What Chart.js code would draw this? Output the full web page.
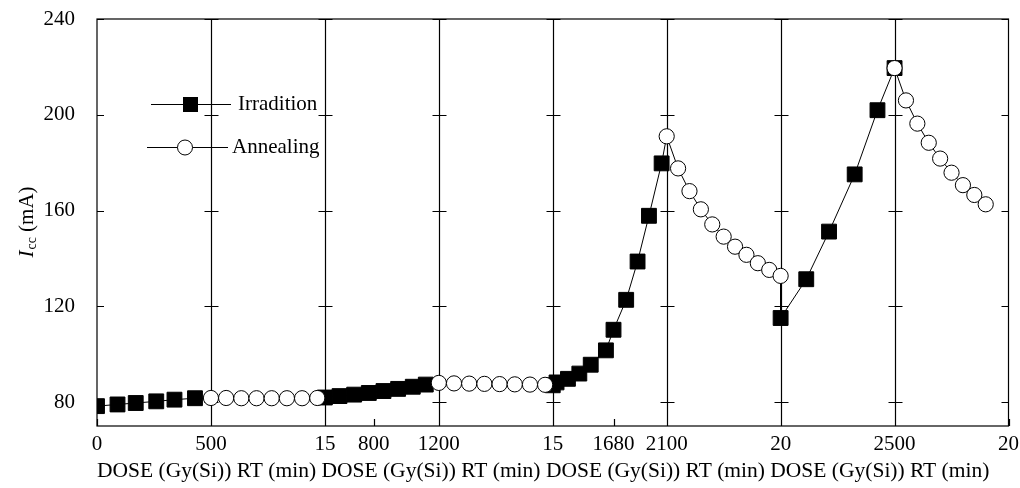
<!DOCTYPE html>
<html>
<head>
<meta charset="utf-8">
<script src="https://cdn.jsdelivr.net/npm/chart.js@4.4.1/dist/chart.umd.min.js"></script>
<style>
  html, body { margin: 0; padding: 0; background: #fff; }
  #wrap { width: 1020px; height: 488px; position: relative; }
</style>
</head>
<body>
<div id="wrap"><canvas id="chart"></canvas></div>
<script>
// x axis is split into runs: dose run, anneal run, dose run, ...
const doseRuns = [[0, 500], [500, 1200], [1200, 2100], [2100, 2500]];
const rtSpans = [15, 15, 20, 20];

// tick labels along the bottom, with the segment they belong to
const xTickLabels = ['0', '500', '15', '800', '1200', '15', '1680', '2100', '20', '2500', '20'];
const xTickSeg = [0, 0, 1, 2, 2, 3, 4, 4, 5, 6, 7];
const yTicks = [80, 120, 160, 200, 240];

// irradiation runs (dose, Icc)
const irr1Dose = [0, 90, 170, 260, 340, 430];
const irr1Icc = [78.3, 79.0, 79.6, 80.3, 81.0, 81.6];
const irr2Dose = [500, 590, 680, 770, 860, 950, 1040, 1120];
const irr2Icc = [81.9, 82.5, 83.1, 83.8, 84.6, 85.5, 86.4, 87.3];
const irr3Dose = [1200, 1230, 1320, 1410, 1500, 1620, 1680, 1780, 1870, 1960, 2060];
const irr3Icc = [87.0, 88.2, 89.7, 91.9, 95.6, 101.6, 110.2, 122.7, 138.7, 157.8, 179.7];
const irr4Dose = [2100, 2190, 2270, 2360, 2440, 2500];
const irr4Icc = [115.1, 131.3, 151.2, 175.1, 201.9, 219.5];

// annealing runs (RT minutes, Icc)
const ann1Time = [0, 2, 4, 6, 8, 10, 12, 14];
const ann1Icc = [81.7, 81.7, 81.6, 81.6, 81.6, 81.6, 81.6, 81.7];
const ann2Time = [0, 2, 4, 6, 8, 10, 12, 14];
const ann2Icc = [88.0, 87.8, 87.7, 87.6, 87.5, 87.4, 87.3, 87.2];
const ann3Time = [0, 2, 4, 6, 8, 10, 12, 14, 16, 18, 20];
const ann3Icc = [191.0, 177.6, 168.1, 160.5, 154.2, 149.1, 144.9, 141.5, 138.0, 135.2, 132.7];
const ann4Time = [0, 2, 4, 6, 8, 10, 12, 14, 16];
const ann4Icc = [219.5, 206.0, 196.3, 188.3, 181.7, 175.8, 170.6, 166.5, 162.6];

// segment-local value -> position on the 0..8 axis
function segX(seg, v) {
    if (seg % 2 === 0) {
        const r = doseRuns[seg / 2];
        return seg + (v - r[0]) / (r[1] - r[0]);
    }
    return seg + v / rtSpans[(seg - 1) / 2];
}
function pts(seg, xs, ys) {
    return xs.map((v, i) => ({ x: segX(seg, v), y: ys[i] }));
}

const irrPts = [].concat(pts(0, irr1Dose, irr1Icc), pts(2, irr2Dose, irr2Icc), pts(4, irr3Dose, irr3Icc), pts(6, irr4Dose, irr4Icc));
const annPts = [].concat(pts(1, ann1Time, ann1Icc), pts(3, ann2Time, ann2Icc), pts(5, ann3Time, ann3Icc), pts(7, ann4Time, ann4Icc));
const tracePts = [].concat(
    pts(0, irr1Dose, irr1Icc), pts(1, ann1Time, ann1Icc),
    pts(2, irr2Dose, irr2Icc), pts(3, ann2Time, ann2Icc),
    pts(4, irr3Dose, irr3Icc), pts(5, ann3Time, ann3Icc),
    pts(6, irr4Dose, irr4Icc), pts(7, ann4Time, ann4Icc));
const xTickPos = xTickLabels.map((t, i) => segX(xTickSeg[i], Number(t)));

const SERIF = '"Liberation Serif", "Times New Roman", serif';
Chart.defaults.font.family = SERIF;
Chart.defaults.font.size = 21;
Chart.defaults.color = '#000';

// frame, run separators and the inward ticks
const framePlugin = {
    id: 'frame',
    beforeDatasetsDraw(chart) {
        const ctx = chart.ctx, a = chart.chartArea;
        const xs = chart.scales.x, ys = chart.scales.y;
        ctx.save();
        ctx.strokeStyle = '#000';
        ctx.lineWidth = 1.2;
        ctx.strokeRect(a.left, a.top, a.right - a.left, a.bottom - a.top);
        ctx.beginPath();
        for (let s = 1; s < 8; s++) {
            const px = Math.round(xs.getPixelForValue(s)) + 0.5;
            ctx.moveTo(px, a.top);
            ctx.lineTo(px, a.bottom);
            yTicks.forEach(t => {
                const py = Math.round(ys.getPixelForValue(t)) + 0.5;
                ctx.moveTo(px - 7, py);
                ctx.lineTo(px + 7, py);
            });
        }
        yTicks.forEach(t => {
            const py = Math.round(ys.getPixelForValue(t)) + 0.5;
            ctx.moveTo(a.left, py);
            ctx.lineTo(a.left + 7, py);
            ctx.moveTo(a.right, py);
            ctx.lineTo(a.right - 7, py);
        });
        xTickPos.forEach(v => {
            const px = Math.round(xs.getPixelForValue(v)) + 0.5;
            ctx.moveTo(px, a.bottom);
            ctx.lineTo(px, a.bottom - 7);
        });
        ctx.stroke();
        ctx.restore();
    }
};

// legend drawn inside the plot, line through marker
const legendPlugin = {
    id: 'innerLegend',
    afterDatasetsDraw(chart) {
        const ctx = chart.ctx;
        const ds = chart.data.datasets;
        ctx.save();
        ctx.strokeStyle = '#000';
        ctx.lineWidth = 1;
        ctx.font = '21px ' + SERIF;
        ctx.textBaseline = 'middle';
        ctx.fillStyle = '#000';
        // Irradition
        ctx.beginPath();
        ctx.moveTo(151, 104.5); ctx.lineTo(231, 104.5); ctx.stroke();
        ctx.fillRect(183, 97, 15, 15);
        ctx.fillText(ds[1].label, 238, 104);
        // Annealing
        ctx.beginPath();
        ctx.moveTo(147, 147.5); ctx.lineTo(228, 147.5); ctx.stroke();
        ctx.beginPath();
        ctx.arc(185, 147.5, 7.5, 0, Math.PI * 2);
        ctx.fillStyle = '#fff'; ctx.fill(); ctx.stroke();
        ctx.fillStyle = '#000';
        ctx.fillText(ds[0].label, 232, 147);
        ctx.restore();
    }
};

// y title: italic I with subscript cc
const yTitlePlugin = {
    id: 'yTitle',
    afterDraw(chart) {
        const ctx = chart.ctx, a = chart.chartArea;
        const big = '21px ' + SERIF, small = '14px ' + SERIF;
        ctx.save();
        ctx.translate(27, (a.top + a.bottom) / 2);
        ctx.rotate(-Math.PI / 2);
        ctx.fillStyle = '#000';
        ctx.textBaseline = 'middle';
        ctx.font = 'italic ' + big; const wI = ctx.measureText('I').width;
        ctx.font = small; const wc = ctx.measureText('cc').width;
        ctx.font = big; const wm = ctx.measureText(' (mA)').width;
        let x = -(wI + wc + wm) / 2;
        ctx.font = 'italic ' + big; ctx.fillText('I', x, 0); x += wI + 1;
        ctx.font = small; ctx.fillText('cc', x, 5); x += wc;
        ctx.font = big; ctx.fillText(' (mA)', x, 0);
        ctx.restore();
    }
};

new Chart(document.getElementById('chart'), {
    type: 'scatter',
    data: {
        datasets: [{
            label: 'Annealing',
            data: annPts,
            pointStyle: 'circle',
            pointRadius: 7.6,
            pointBorderWidth: 1,
            pointBackgroundColor: '#fff',
            pointBorderColor: '#000',
            showLine: false
        }, {
            label: 'Irradition',
            data: irrPts,
            pointStyle: 'rect',
            pointRadius: 10.5,
            pointBorderWidth: 1,
            pointBackgroundColor: '#000',
            pointBorderColor: '#000',
            showLine: false
        }, {
            label: 'trace',
            data: tracePts,
            showLine: true,
            borderColor: '#000',
            borderWidth: 1,
            pointRadius: 0,
            fill: false
        }]
    },
    options: {
        responsive: true,
        maintainAspectRatio: false,
        animation: false,
        layout: { padding: { top: 19, right: 10, bottom: 0, left: 0 } },
        plugins: { legend: { display: false }, tooltip: { enabled: false } },
        scales: {
            x: {
                type: 'linear',
                min: 0,
                max: 8,
                grid: { display: false },
                border: { display: false },
                afterBuildTicks: s => { s.ticks = xTickPos.map(v => ({ value: v })); },
                afterFit: s => { s.height = 62; s.paddingLeft = 0; s.paddingRight = 0; },
                ticks: {
                    autoSkip: false,
                    maxRotation: 0,
                    padding: -2,
                    callback: (v, i) => xTickLabels[i]
                },
                title: {
                    display: true,
                    align: 'start',
                    text: 'DOSE (Gy(Si)) RT (min) DOSE (Gy(Si)) RT (min) DOSE (Gy(Si)) RT (min) DOSE (Gy(Si)) RT (min)',
                    font: { size: 21.5 },
                    padding: { top: 0, bottom: 4 }
                }
            },
            y: {
                min: 70,
                max: 240,
                grid: { display: false },
                border: { display: false },
                afterBuildTicks: s => { s.ticks = yTicks.map(v => ({ value: v })); },
                afterFit: s => { s.width = 97; s.paddingTop = 0; s.paddingBottom = 0; },
                ticks: { padding: 14 }
            }
        }
    },
    plugins: [framePlugin, legendPlugin, yTitlePlugin]
});
</script>
</body>
</html>
